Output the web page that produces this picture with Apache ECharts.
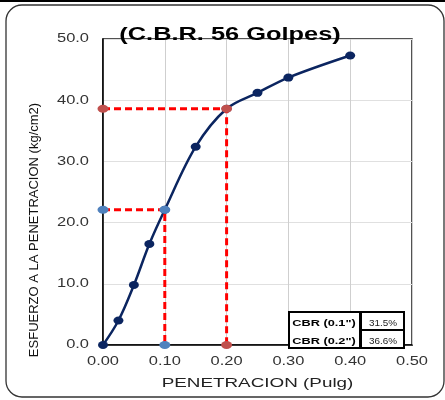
<!DOCTYPE html>
<html>
<head>
<meta charset="utf-8">
<script src="https://cdn.jsdelivr.net/npm/echarts@6/dist/echarts.min.js"></script>
<style>html,body{margin:0;padding:0;background:#fff}#c{width:445px;height:400px}</style>
</head>
<body>
<div id="c"></div>
<script>
// Data
var penetration = [0, 0.025, 0.05, 0.075, 0.1, 0.15, 0.2, 0.25, 0.3, 0.4];
var stress = [0, 4.0, 9.8, 16.5, 22.1, 32.4, 38.6, 41.2, 43.7, 47.3];
var cbr01Pen = 0.1, cbr01Load = 22.1;
var cbr02Pen = 0.2, cbr02Load = 38.6;
var tableLabels = ['CBR (0.1")', 'CBR (0.2")'];
var tableValues = ['31.5%', '36.6%'];
var titleText = '(C.B.R. 56 Golpes)';
var xName = 'PENETRACION (Pulg)';
var yName = 'ESFUERZO A LA PENETRACION (kg/cm2)';

// horizontally widened glyphs: family token "sxNNN" => horizontal scale NNN/100
(function () {
  var P = window.CanvasRenderingContext2D && CanvasRenderingContext2D.prototype;
  if (!P) return;
  var ft = P.fillText, mt = P.measureText;
  function sxOf(ctx) { var m = /\bsx(\d+)\b/.exec(ctx.font || ''); return m ? m[1] / 100 : 1; }
  P.fillText = function (t, x, y) {
    var s = sxOf(this);
    if (s === 1) return ft.apply(this, arguments);
    this.save(); this.scale(s, 1); ft.call(this, t, x / s, y); this.restore();
  };
  P.measureText = function (t) {
    var m = mt.call(this, t); var s = sxOf(this);
    if (s === 1) return m;
    return {
      width: m.width * s,
      actualBoundingBoxAscent: m.actualBoundingBoxAscent,
      actualBoundingBoxDescent: m.actualBoundingBoxDescent,
      actualBoundingBoxLeft: m.actualBoundingBoxLeft * s,
      actualBoundingBoxRight: m.actualBoundingBoxRight * s,
      fontBoundingBoxAscent: m.fontBoundingBoxAscent,
      fontBoundingBoxDescent: m.fontBoundingBoxDescent
    };
  };
})();

var F = "'Liberation Sans', Arial, sans-serif";
function sx(n) { return 'sx' + n + ', ' + F; }

var mainData = penetration.map(function (x, i) { return [x, stress[i]]; });
var line01 = [[0, cbr01Load], [cbr01Pen, cbr01Load], [cbr01Pen, 0]];
var line02 = [[0, cbr02Load], [cbr02Pen, cbr02Load], [cbr02Pen, 0]];

var chart = echarts.init(document.getElementById('c'), null, { renderer: 'canvas' });
chart.setOption({
  animation: false,
  backgroundColor: '#fff',
  title: {
    text: titleText,
    left: 225,
    top: 17,
    textAlign: 'center',
    textStyle: { fontFamily: sx(141), fontSize: 18, fontWeight: 'bold', color: '#000' }
  },
  grid: {
    left: 103, right: 33, top: 39, bottom: 55,
    show: true, borderColor: '#1a1a1a', borderWidth: 1.5, backgroundColor: 'transparent'
  },
  xAxis: {
    type: 'value', min: 0, max: 0.5, interval: 0.1,
    name: xName, nameLocation: 'middle', nameGap: 24,
    nameTextStyle: { fontFamily: sx(145), fontSize: 13, color: '#222' },
    axisLine: { show: true, onZero: false, lineStyle: { color: '#000', width: 1.5 } },
    axisTick: { show: false },
    axisLabel: { margin: 8, fontFamily: sx(137), fontSize: 12, color: '#333',
      formatter: function (v) { return v.toFixed(2); } },
    splitLine: { show: true, lineStyle: { color: '#cfcfcf', width: 1 } }
  },
  yAxis: {
    type: 'value', min: 0, max: 50, interval: 10,
    axisLine: { show: true, onZero: false, lineStyle: { color: '#000', width: 1.5 } },
    axisTick: { show: false },
    axisLabel: { margin: 14, fontFamily: sx(137), fontSize: 12, color: '#333',
      formatter: function (v) { return v.toFixed(1); } },
    splitLine: { show: true, lineStyle: { color: '#e0e0e0', width: 1 } }
  },
  series: [
    {
      type: 'line', data: mainData, smooth: 0.35,
      symbol: 'circle', symbolSize: [10, 8],
      lineStyle: { color: '#0b2560', width: 2.5 },
      itemStyle: { color: '#0b2560' }, z: 3
    },
    {
      type: 'line', data: line01,
      symbol: 'circle', symbolSize: [11, 8],
      lineStyle: { color: '#ff0000', width: 3, type: [7, 4] },
      itemStyle: { color: '#4f81bd' }, z: 4
    },
    {
      type: 'line', data: line02,
      symbol: 'circle', symbolSize: [11, 8],
      lineStyle: { color: '#ff0000', width: 3, type: [7, 4] },
      itemStyle: { color: '#c0504d' }, z: 4
    }
  ],
  graphic: [
    { type: 'line', shape: { x1: 0, y1: 1, x2: 445, y2: 1 }, style: { stroke: '#000', lineWidth: 2 }, z: 10 },
    { type: 'rect', shape: { x: 6, y: 5, width: 438, height: 392, r: 16 },
      style: { fill: 'transparent', stroke: '#333', lineWidth: 1.3 }, z: -1 },
    { type: 'text', x: 34, y: 230, rotation: Math.PI / 2,
      style: { text: yName, font: "13px 'Liberation Sans', Arial, sans-serif", fill: '#111',
        textAlign: 'center', textVerticalAlign: 'middle' }, z: 10 },
    { type: 'rect', shape: { x: 289, y: 312, width: 71, height: 36 },
      style: { fill: '#fff', stroke: '#000', lineWidth: 2 }, z: 20 },
    { type: 'rect', shape: { x: 361, y: 312, width: 43, height: 18 },
      style: { fill: '#fff', stroke: '#000', lineWidth: 2 }, z: 20 },
    { type: 'rect', shape: { x: 361, y: 330, width: 43, height: 18 },
      style: { fill: '#fff', stroke: '#000', lineWidth: 2 }, z: 20 },
    { type: 'text', x: 324, y: 323.5,
      style: { text: tableLabels[0], font: "bold 8.5px " + sx(150), fill: '#000',
        textAlign: 'center', textVerticalAlign: 'middle' }, z: 21 },
    { type: 'text', x: 324, y: 341.5,
      style: { text: tableLabels[1], font: "bold 8.5px " + sx(150), fill: '#000',
        textAlign: 'center', textVerticalAlign: 'middle' }, z: 21 },
    { type: 'text', x: 383, y: 323.5,
      style: { text: tableValues[0], font: "9px " + sx(110), fill: '#222',
        textAlign: 'center', textVerticalAlign: 'middle' }, z: 21 },
    { type: 'text', x: 383, y: 341.5,
      style: { text: tableValues[1], font: "9px " + sx(110), fill: '#222',
        textAlign: 'center', textVerticalAlign: 'middle' }, z: 21 }
  ]
});
</script>
</body>
</html>
